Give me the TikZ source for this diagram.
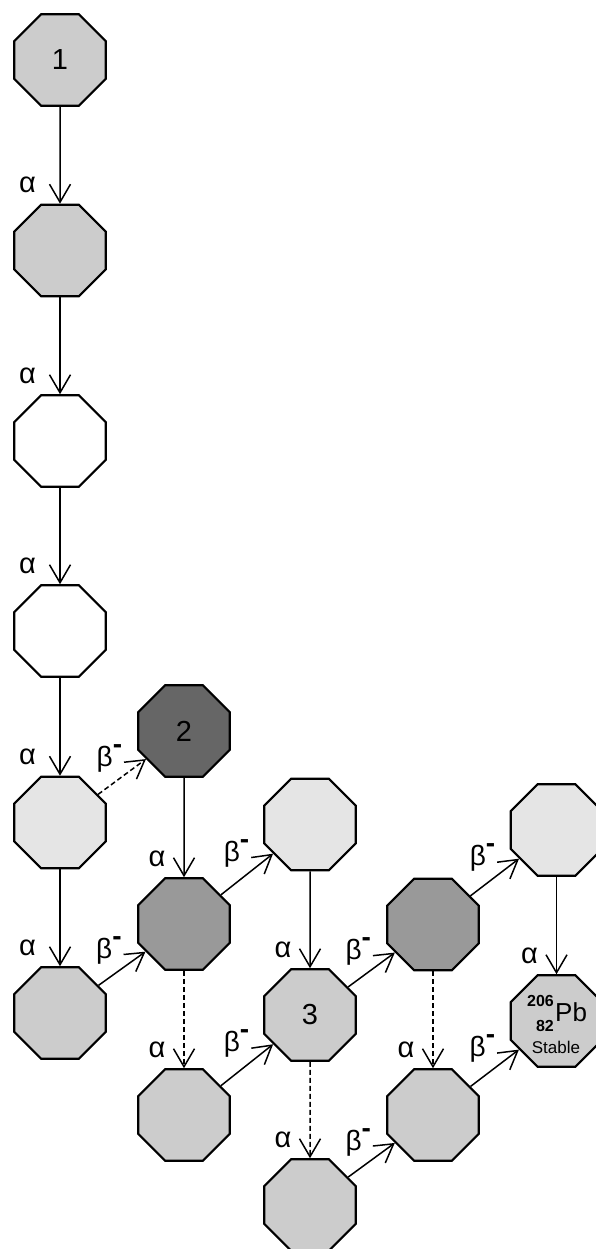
\documentclass[tikz,border=0pt]{standalone}
\usepackage{fontspec}
\setmainfont{Liberation Sans}
\usetikzlibrary{shapes.geometric,arrows.meta}
\definecolor{fillA}{gray}{0.80}
\definecolor{fillB}{gray}{0.90}
\definecolor{fillC}{gray}{0.60}
\definecolor{fillD}{gray}{0.40}
\newcommand\betaminus{β\raisebox{13pt}{\fontsize{28}{28}\selectfont\bfseries -}}
\begin{document}
\begin{tikzpicture}[x=1pt,y=-1pt,
  oct/.style={regular polygon, regular polygon sides=8, minimum size=99pt,
    inner sep=0pt, draw=black, line width=2.1pt, font=\fontsize{29}{29}\selectfont},
  conn/.style={line width=1.5pt, -{Straight Barb[length=18pt,width=21pt]}},
  dconn/.style={conn, dash pattern=on 5pt off 3pt},
  alabbase/.style={pos=1, anchor=base, inner sep=0pt, font=\fontsize{29}{29}\selectfont, yshift=11pt},
  alab/.style={alabbase, xshift=-27pt},
  alabfar/.style={alabbase, xshift=-32.5pt},
  blab/.style={pos=1, anchor=base west, inner sep=0pt, font=\fontsize{28}{28}\selectfont, xshift=-50pt, yshift=-7.3pt},
]
\useasboundingbox (0,0) rectangle (595,1249);
\fill[white] (0,0) rectangle (595,1249);

% column 1
\node[oct, fill=fillA] (n1) at (60,60) {1};
\node[oct, fill=fillA] (a2) at (60,250.5) {};
\node[oct, fill=white] (a3) at (60,441) {};
\node[oct, fill=white] (a4) at (60,631) {};
\node[oct, fill=fillB] (a5) at (60,822.5) {};
\node[oct, fill=fillA] (a6) at (60,1013) {};
% column 2
\node[oct, fill=fillD] (n2) at (184,731) {2};
\node[oct, fill=fillC] (b2) at (184,924) {};
\node[oct, fill=fillA] (b3) at (184,1115) {};
% column 3
\node[oct, fill=fillB] (c1) at (310,824.5) {};
\node[oct, fill=fillA] (n3) at (310,1015) {3};
\node[oct, fill=fillA] (c3) at (310,1205) {};
% column 4
\node[oct, fill=fillC] (d1) at (433,924.5) {};
\node[oct, fill=fillA] (d2) at (433,1115) {};
% column 5
\node[oct, fill=fillB] (e1) at (556.5,830) {};
\node[oct, fill=fillA] (pb) at (556.5,1021) {};
\node[anchor=base west, inner sep=0pt, font=\fontsize{26}{26}\selectfont] (pbsym) at (555,1021.7) {Pb};
\node[anchor=base east, inner sep=0pt, font=\fontsize{16}{16}\selectfont\bfseries] (pbmass) at (554,1006) {206};
\node[anchor=base east, inner sep=0pt, font=\fontsize{16}{16}\selectfont\bfseries] (pbz) at (554,1031) {82};
\node[anchor=base, inner sep=0pt, font=\fontsize{17}{17}\selectfont] (pbst) at (556,1053.3) {Stable};

% alpha decays, column 1
\draw[conn] (n1) -- (a2) node[alabfar] {α};
\draw[conn] (a2) -- (a3) node[alabfar] {α};
\draw[conn] (a3) -- (a4) node[alabfar] {α};
\draw[conn] (a4) -- (a5) node[alabfar] {α};
\draw[conn] (a5) -- (a6) node[alabfar] {α};
% other alpha decays
\draw[conn] (n2) -- (b2) node[alab] {α};
\draw[dconn] (b2) -- (b3) node[alab] {α};
\draw[conn] (c1) -- (n3) node[alab] {α};
\draw[dconn] (n3) -- (c3) node[alab] {α};
\draw[dconn] (d1) -- (d2) node[alab] {α};
\draw[conn] (e1) -- (pb) node[alab] {α};
% beta decays
\draw[dconn] (a5) -- (n2) node[blab] {\betaminus};
\draw[conn] (a6) -- (b2) node[blab] {\betaminus};
\draw[conn] (b2) -- (c1) node[blab] {\betaminus};
\draw[conn] (b3) -- (n3) node[blab] {\betaminus};
\draw[conn] (n3) -- (d1) node[blab] {\betaminus};
\draw[conn] (d1) -- (e1) node[blab] {\betaminus};
\draw[conn] (c3) -- (d2) node[blab] {\betaminus};
\draw[conn] (d2) -- (pb) node[blab] {\betaminus};
\end{tikzpicture}
\end{document}
